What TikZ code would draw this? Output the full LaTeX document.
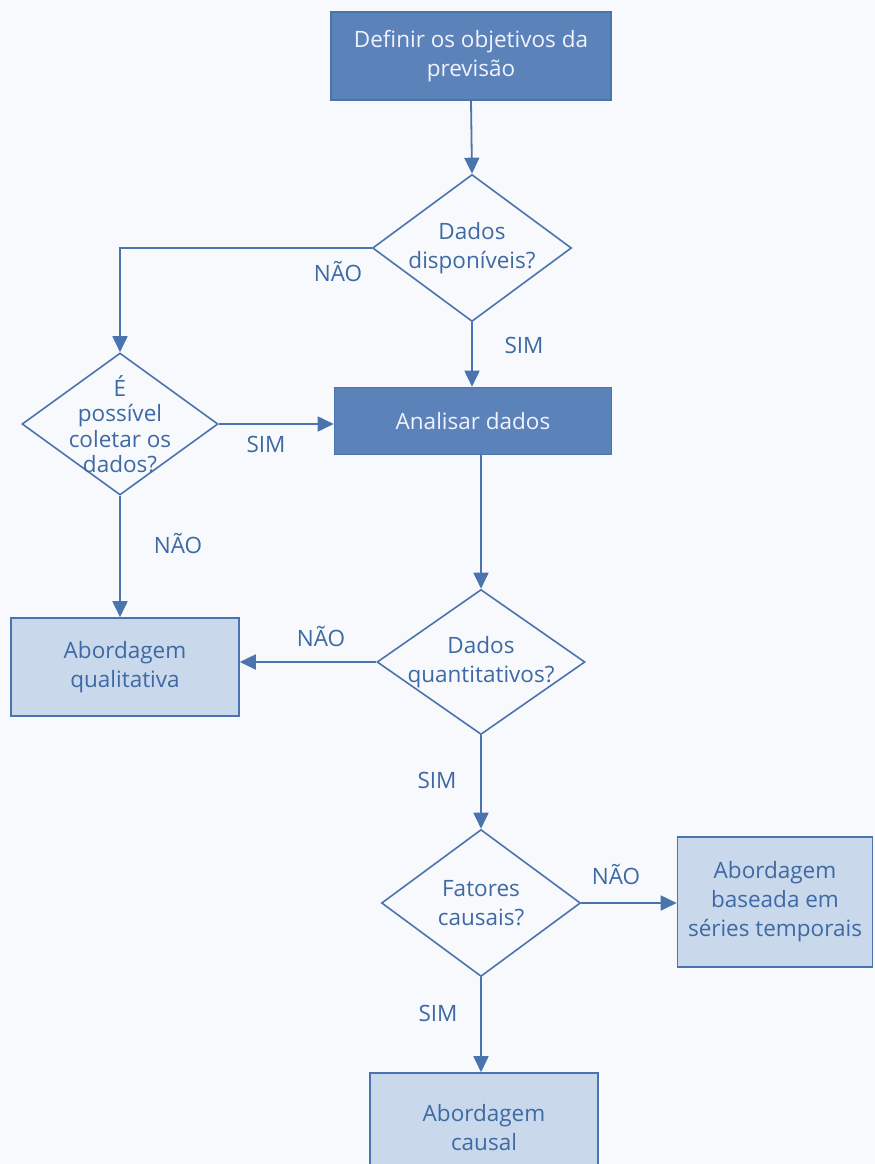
\documentclass[tikz,border=0pt]{standalone}
\usepackage{fontspec}
\setmainfont{Open Sans}
\usetikzlibrary{shapes.geometric,arrows.meta}
\definecolor{linecol}{HTML}{4A74AE}
\definecolor{darkfill}{HTML}{5B83B9}
\definecolor{lightfill}{HTML}{C9D8EB}
\definecolor{txtcol}{HTML}{3D69A4}
\definecolor{paper}{HTML}{F8F9FC}
\tikzset{
  every node/.style={font=\fontsize{22.5}{29}\selectfont},
  darkbox/.style={draw=linecol, line width=1.6pt, fill=darkfill, text=white!95!blue, align=center, inner sep=0pt},
  lightbox/.style={draw=linecol, line width=1.6pt, fill=lightfill, text=txtcol, align=center, inner sep=0pt},
  decision/.style={diamond, draw=linecol, line width=1.6pt, fill=paper, text=txtcol, align=center, inner sep=-30pt},
  lbl/.style={text=txtcol, inner sep=0pt},
  flow/.style={draw=linecol, line width=1.8pt, -{Triangle[length=16pt,width=15pt]}},
}
\begin{document}
\begin{tikzpicture}[x=1pt,y=-1pt]
\useasboundingbox (0,0) rectangle (875,1164);
\fill[paper] (0,0) rectangle (875,1164);
\clip (0,0) rectangle (875,1164);

% process boxes
\node[darkbox, minimum width=280pt, minimum height=88pt] (goal) at (471,56) {Definir os objetivos da\\previsão};
\node[darkbox, minimum width=277pt, minimum height=67pt] (analyse) at (473,421) {Analisar dados};
\node[lightbox, minimum width=228pt, minimum height=98pt] (qual) at (125,667) {Abordagem\\qualitativa};
\node[lightbox, minimum width=195pt, minimum height=130pt] (series) at (775,902) {Abordagem\\baseada em\\séries temporais};
\node[lightbox, minimum width=228pt, minimum height=110pt] (causal) at (484,1128) {Abordagem\\causal};

% decisions
\node[decision, minimum width=199pt, minimum height=147pt] (avail) at (472,248) {Dados\\disponíveis?};
\node[decision, minimum width=196pt, minimum height=142pt, font=\fontsize{22.5}{25.5}\selectfont] (collect) at (120,424) {É\\possível\\coletar os\\dados?};
\node[decision, minimum width=208pt, minimum height=145pt] (quant) at (481,662) {Dados\\quantitativos?};
\node[decision, minimum width=199pt, minimum height=147pt] (causes) at (481,903) {Fatores\\causais?};

% connectors
\draw[flow] (goal.south) -- (avail.north);
\draw[flow] (avail.west) -| (collect.north);
\draw[flow] (avail.south) -- (avail.south |- analyse.north);
\draw[flow] (collect.east) -- (analyse.west |- collect.east);
\draw[flow] (collect.south) -- (qual.north -| collect.south);
\draw[flow] (analyse.south -| quant.north) -- (quant.north);
\draw[flow] (quant.west) -- (qual.east |- quant.west);
\draw[flow] (quant.south) -- (causes.north);
\draw[flow] (causes.east) -- (series.west |- causes.east);
\draw[flow] (causes.south) -- (causal.north -| causes.south);

% branch labels
\node[lbl] (l1) at (338,272) {NÃO};
\node[lbl] (l2) at (524,345) {SIM};
\node[lbl] (l3) at (266,444) {SIM};
\node[lbl] (l4) at (178,544) {NÃO};
\node[lbl] (l5) at (321,636) {NÃO};
\node[lbl] (l6) at (437,780) {SIM};
\node[lbl] (l7) at (616,874) {NÃO};
\node[lbl] (l8) at (438,1013) {SIM};
\end{tikzpicture}
\end{document}
